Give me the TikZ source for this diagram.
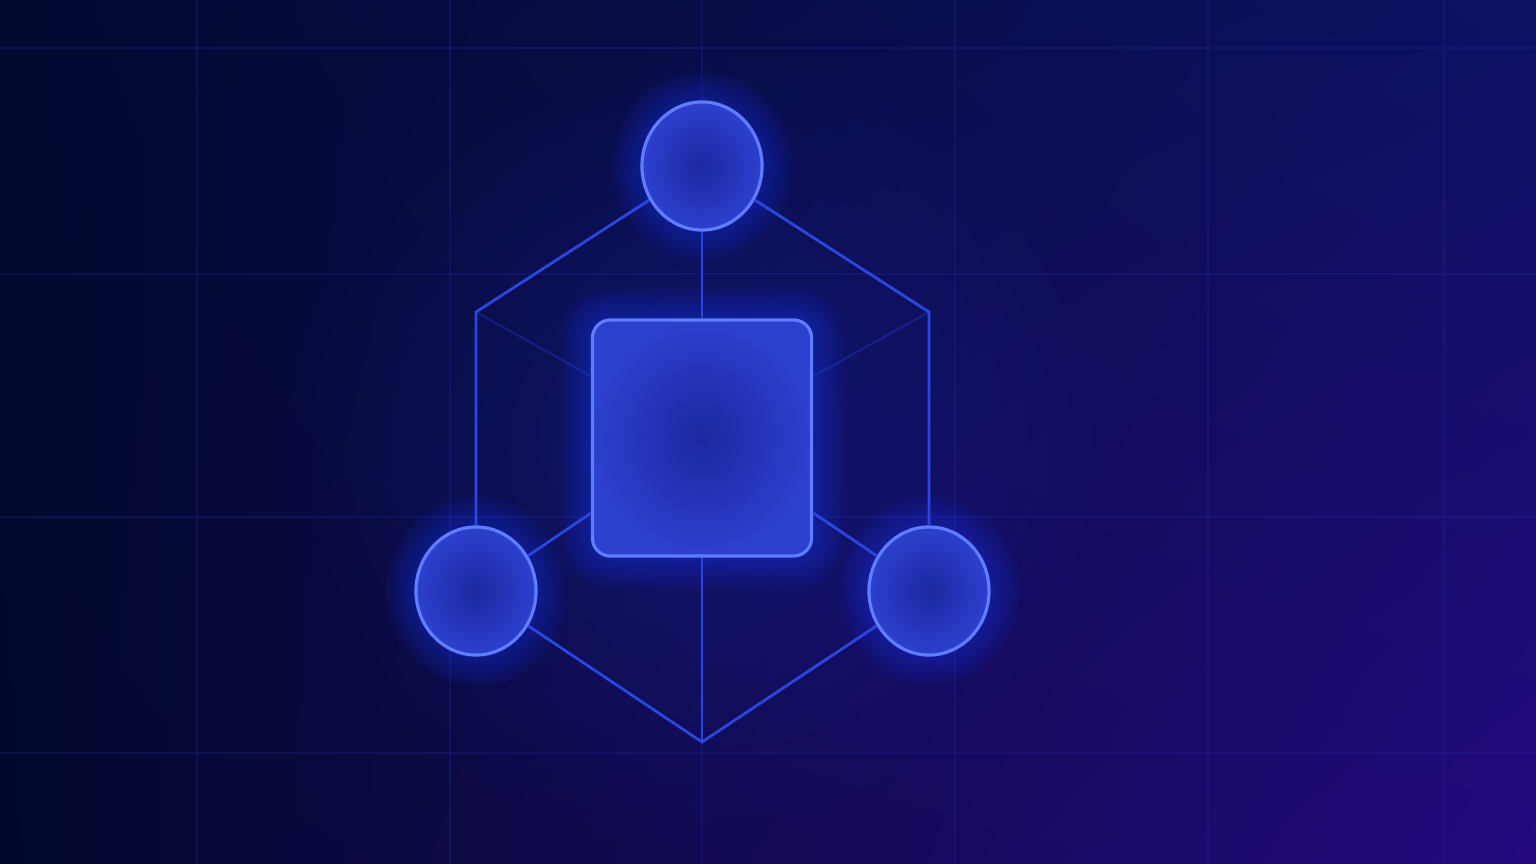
\documentclass[tikz,border=0pt]{standalone}
\usepackage{tikz}
\usetikzlibrary{shapes.geometric,backgrounds,fadings,shadings}

\definecolor{bgTL}{RGB}{3,9,48}
\definecolor{bgTR}{RGB}{13,17,98}
\definecolor{bgBL}{RGB}{2,8,44}
\definecolor{bgBR}{RGB}{36,10,126}
\definecolor{gridline}{RGB}{34,38,160}
\definecolor{edgeblue}{RGB}{42,70,222}
\definecolor{rimblue}{RGB}{96,124,255}
\definecolor{fillin}{RGB}{28,40,160}
\definecolor{fillout}{RGB}{44,64,206}
\definecolor{glowblue}{RGB}{40,70,255}

\tikzfading[name=softglow, inner color=transparent!0, outer color=transparent!100]

\tikzset{
  orb/.style={ellipse, draw=rimblue, line width=0.9pt, inner color=fillin, outer color=fillout,
    minimum width=1.2cm, minimum height=1.28cm, inner sep=0pt},
  core/.style={rectangle, rounded corners=0.18cm, draw=rimblue, line width=0.9pt, inner color=fillin,
    outer color=fillout, minimum width=2.19cm, minimum height=2.36cm, inner sep=0pt},
  link/.style={draw=edgeblue, line width=0.8pt},
  backlink/.style={draw=edgeblue, line width=0.6pt, opacity=0.3},
  gridrule/.style={draw=gridline, line width=0.35pt, opacity=0.28},
  halo/.style={draw=glowblue, opacity=0.035}
}

\begin{document}
\begin{tikzpicture}[x=0.01cm, y=-0.01cm]
  \useasboundingbox (0,0) rectangle (1536,864);

  \node[orb]  (top)   at (702,166) {};
  \node[orb]  (left)  at (476,591) {};
  \node[orb]  (right) at (929,591) {};
  \node[core] (hub)   at (702,438) {};

  \coordinate (ul)  at (476,312);
  \coordinate (ur)  at (929,312);
  \coordinate (bot) at (702,742);

  \begin{scope}[on background layer]
    % backdrop
    \shade[upper left=bgTL, upper right=bgTR, lower left=bgBL, lower right=bgBR] (0,0) rectangle (1536,864);
    \fill[glowblue, opacity=0.18, path fading=softglow] (702,450) ellipse [x radius=430, y radius=410];

    % grid
    \foreach \gx in {197,450,702,955,1208,1444}
      \draw[gridrule] (\gx,0) -- (\gx,864);
    \foreach \gy in {48,274,517,753}
      \draw[gridrule] (0,\gy) -- (1536,\gy);

    % glow round the nodes
    \foreach \w in {1.5,3,...,18} {
      \draw[halo, line width=\w pt] (top.center) ellipse [x radius=60, y radius=64];
      \draw[halo, line width=\w pt] (left.center) ellipse [x radius=60, y radius=64];
      \draw[halo, line width=\w pt] (right.center) ellipse [x radius=60, y radius=64];
      \draw[halo, line width=\w pt, rounded corners=0.18cm] (hub.north west) rectangle (hub.south east);
    }
  \end{scope}

  % spokes
  \draw[link] (top) -- (hub);
  \draw[link] (hub) -- (bot);
  \draw[link] (left) -- (hub);
  \draw[link] (right) -- (hub);
  \draw[backlink] (ul) -- (hub);
  \draw[backlink] (ur) -- (hub);

  % rim
  \draw[link] (top) -- (ul) -- (left);
  \draw[link] (top) -- (ur) -- (right);
  \draw[link] (left) -- (bot) -- (right);
\end{tikzpicture}
\end{document}
